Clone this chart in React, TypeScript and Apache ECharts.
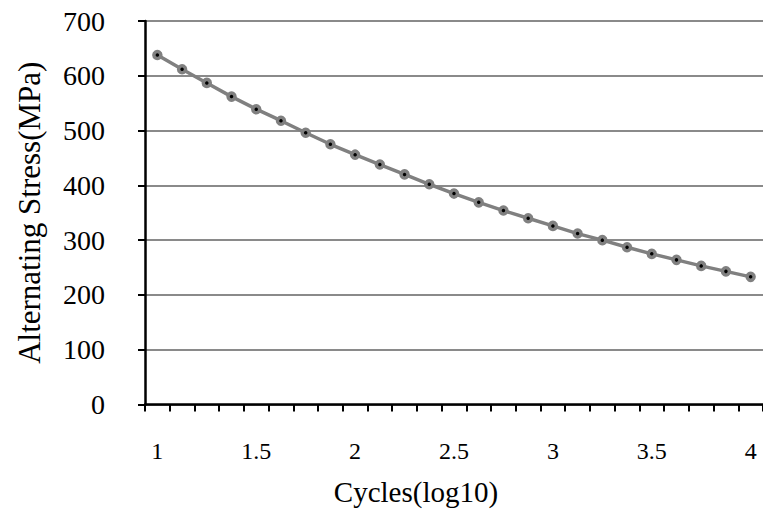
import React, { useEffect, useRef } from "react";
import * as echarts from "echarts";

const cycles: string[] = [
  "1", "1.125", "1.25", "1.375", "1.5", "1.625", "1.75", "1.875",
  "2", "2.125", "2.25", "2.375", "2.5", "2.625", "2.75", "2.875",
  "3", "3.125", "3.25", "3.375", "3.5", "3.625", "3.75", "3.875", "4",
];
const stress: number[] = [
  638, 612, 587, 562, 539, 518, 496, 475, 456, 438, 420, 402, 385,
  369, 354, 340, 326, 312, 300, 287, 275, 264, 253, 243, 233,
];
const yTicks = { min: 0, max: 700, interval: 100 };

export default function App() {
  const ref = useRef<HTMLDivElement>(null);
  useEffect(() => {
    if (!ref.current) return;
    const chart = echarts.init(ref.current, undefined, { renderer: "svg" });
    const font = "Liberation Serif";
    chart.setOption({
      animation: false,
      backgroundColor: "#ffffff",
      textStyle: { fontFamily: font },
      grid: { left: 145, top: 21, width: 624, height: 383.5, containLabel: false },
      xAxis: {
        type: "category",
        data: cycles,
        boundaryGap: true,
        name: "Cycles(log10)",
        nameLocation: "middle",
        nameGap: 73,
        nameTextStyle: { fontFamily: font, fontSize: 29, color: "#000", padding: [0, 76, 0, 0] },
        axisLine: { lineStyle: { color: "#000", width: 2.5 } },
        axisTick: { show: true, interval: 0, length: 7, lineStyle: { color: "#000", width: 2 } },
        axisLabel: { interval: 3, margin: 34, fontFamily: font, fontSize: 24, color: "#000" },
        splitLine: { show: false },
      },
      yAxis: {
        type: "value",
        min: yTicks.min,
        max: yTicks.max,
        interval: yTicks.interval,
        name: "Alternating Stress(MPa)",
        nameLocation: "middle",
        nameGap: 100,
        nameTextStyle: { fontFamily: font, fontSize: 31, color: "#000" },
        axisLine: { show: true, lineStyle: { color: "#000", width: 2.5 } },
        axisTick: { show: true, length: 7, lineStyle: { color: "#000", width: 2 } },
        axisLabel: { margin: 40, fontFamily: font, fontSize: 28, color: "#000" },
        splitLine: { show: true, lineStyle: { color: "#8a8a8a", width: 2 } },
      },
      series: [
        {
          type: "line",
          data: stress,
          symbol: "circle",
          symbolSize: 7,
          lineStyle: { color: "#808080", width: 3.5 },
          itemStyle: { color: "#000", borderColor: "#808080", borderWidth: 3.5 },
        },
      ],
    });
    return () => chart.dispose();
  }, []);
  return <div ref={ref} style={{ width: 763, height: 512, position: "absolute", left: 0, top: 0 }} />;
}
